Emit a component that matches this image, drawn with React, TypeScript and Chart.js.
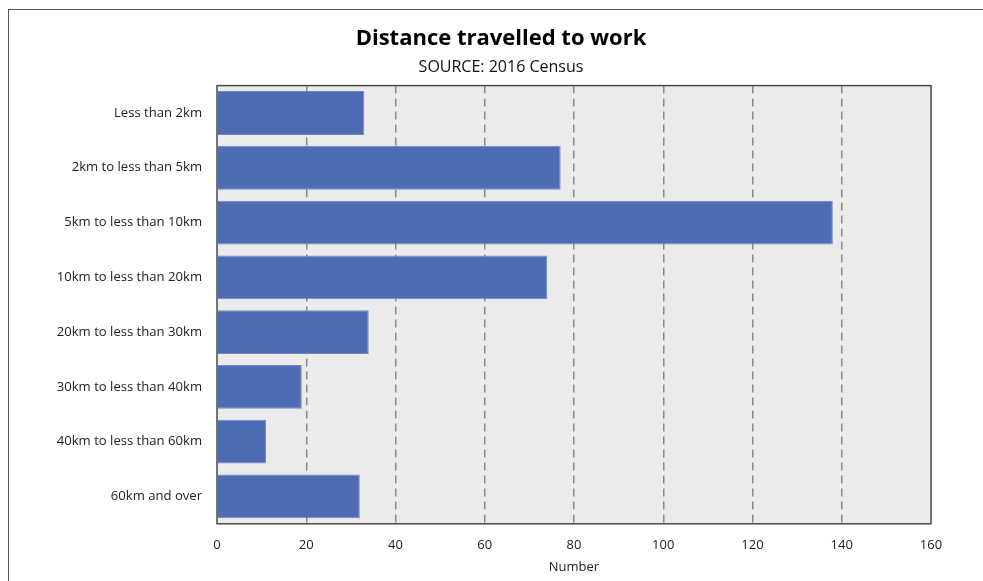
import React, { useEffect, useRef } from "react";
import { Chart, registerables } from "chart.js";

Chart.register(...registerables);

const categories: string[] = [
  "Less than 2km",
  "2km to less than 5km",
  "5km to less than 10km",
  "10km to less than 20km",
  "20km to less than 30km",
  "30km to less than 40km",
  "40km to less than 60km",
  "60km and over",
];
const values: number[] = [33, 77, 138, 74, 34, 19, 11, 32];
const xMin = 0;
const xMax = 160;
const xStep = 20;
const titleText = "Distance travelled to work";
const subtitleText = "SOURCE: 2016 Census";
const xAxisTitle = "Number";

const FONT = "'Open Sans', 'Noto Sans', sans-serif";

const plotFrame = {
  id: "plotFrame",
  beforeDraw(chart: any) {
    const { ctx, chartArea } = chart;
    if (!chartArea) return;
    ctx.save();
    ctx.fillStyle = "#ebebeb";
    ctx.fillRect(chartArea.left, chartArea.top, chartArea.right - chartArea.left, chartArea.bottom - chartArea.top);
    ctx.restore();
  },
  afterDraw(chart: any) {
    const { ctx, chartArea } = chart;
    if (!chartArea) return;
    ctx.save();
    ctx.strokeStyle = "#4a4a4a";
    ctx.lineWidth = 1.5;
    ctx.setLineDash([]);
    ctx.strokeRect(chartArea.left, chartArea.top, chartArea.right - chartArea.left, chartArea.bottom - chartArea.top);
    ctx.restore();
  },
};

export default function App() {
  const ref = useRef<HTMLCanvasElement | null>(null);

  useEffect(() => {
    if (!ref.current) return;
    const chart = new Chart(ref.current, {
      type: "bar",
      data: {
        labels: categories,
        datasets: [
          {
            label: "Number",
            data: values,
            backgroundColor: "#4e6cb3",
            borderColor: "#7088c2",
            borderWidth: 1,
            barPercentage: 0.8,
            categoryPercentage: 1.0,
            yAxisID: "y",
            xAxisID: "x",
          },
        ],
      },
      options: {
        indexAxis: "y",
        responsive: false,
        animation: false,
        layout: { padding: { left: 0, right: 0, top: 0, bottom: 25 } },
        plugins: {
          legend: { display: false },
          tooltip: { enabled: false },
          title: {
            display: true,
            text: titleText,
            color: "#000",
            font: { family: FONT, size: 22, weight: "bold" },
            padding: { top: 16, bottom: 5 },
          },
          subtitle: {
            display: true,
            text: subtitleText,
            color: "#111",
            font: { family: FONT, size: 16 },
            padding: { top: 0, bottom: 9 },
          },
        },
        scales: {
          x: {
            type: "linear",
            min: xMin,
            max: xMax,
            ticks: {
              stepSize: xStep,
              color: "#222",
              font: { family: FONT, size: 13 },
              padding: 14,
            },
            grid: {
              drawTicks: false,
              lineWidth: 1.5,
              color: (c: any) =>
                c.tick && (c.tick.value === xMin || c.tick.value === xMax) ? "rgba(0,0,0,0)" : "#8a8a8a",
            },
            border: { display: false, dash: [8, 5] },
            title: {
              display: true,
              text: xAxisTitle,
              color: "#222",
              font: { family: FONT, size: 13 },
              padding: { top: -8, bottom: 0 },
            },
          },
          y: {
            type: "category",
            ticks: {
              color: "#222",
              font: { family: FONT, size: 13.1 },
              padding: 15,
            },
            grid: { display: false, drawTicks: false },
            border: { display: false },
            afterFit(scale: any) {
              scale.width = 208;
            },
          },
          yRight: {
            type: "linear",
            axis: "y",
            position: "right",
            min: 0,
            max: 1,
            ticks: { display: false },
            grid: { display: false, drawTicks: false },
            border: { display: false },
            afterFit(scale: any) {
              scale.width = 62;
            },
          },
        },
      },
      plugins: [plotFrame],
    } as any);
    return () => chart.destroy();
  }, []);

  return (
    <div
      style={{
        position: "fixed",
        left: 8,
        top: 9,
        width: 1010,
        height: 620,
        borderLeft: "1px solid #555",
        borderTop: "1px solid #555",
        boxSizing: "border-box",
        background: "#fff",
      }}
    >
      <canvas ref={ref} width={984} height={590} style={{ display: "block" }} />
    </div>
  );
}
